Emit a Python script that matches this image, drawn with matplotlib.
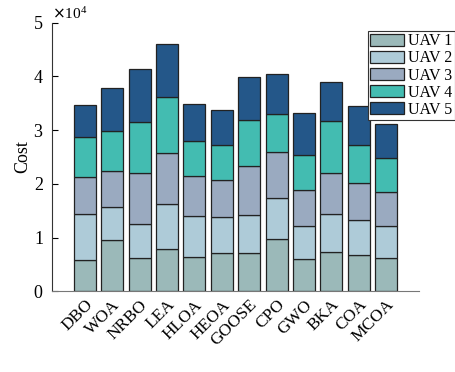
import matplotlib.pyplot as plt
import matplotlib.transforms as mtransforms
import numpy as np

algorithms = ["DBO", "WOA", "NRBO", "LEA", "HLOA", "HEOA", "GOOSE", "CPO", "GWO", "BKA", "COA", "MCOA"]
series_names = ["UAV 1", "UAV 2", "UAV 3", "UAV 4", "UAV 5"]

top_uav1 = [5800, 9500, 6200, 7900, 6400, 7100, 7100, 9700, 6100, 7300, 6700, 6200]
top_uav2 = [14300, 15700, 12500, 16200, 14000, 13900, 14200, 17300, 12100, 14300, 13300, 12200]
top_uav3 = [21300, 22300, 22100, 25700, 21500, 20800, 23300, 26000, 18800, 22000, 20100, 18400]
top_uav4 = [28700, 29800, 31600, 36200, 28000, 27300, 31800, 33000, 25400, 31700, 27200, 24800]
top_uav5 = [34600, 37800, 41400, 46100, 34800, 33700, 39800, 40400, 33100, 38900, 34400, 31100]

colors = ["#9BB9B9", "#AECBD8", "#9AAAC0", "#43BCB1", "#245789"]

plt.rcParams['font.family'] = ['Liberation Serif', 'DejaVu Serif']

tops = np.array([top_uav1, top_uav2, top_uav3, top_uav4, top_uav5], dtype=float)
costs = np.diff(np.vstack([np.zeros(len(algorithms)), tops]), axis=0)

fig = plt.figure(figsize=(4.56, 3.72), dpi=100)
ax = fig.add_axes([0.114, 0.217, 0.805, 0.722])

x = np.arange(1, len(algorithms) + 1)
bottom = np.zeros(len(algorithms))
for name, vals, c in zip(series_names, costs, colors):
    ax.bar(x, vals, width=0.8, bottom=bottom, color=c, edgecolor="#222222",
           linewidth=0.9, label=name)
    bottom += vals

ax.set_xlim(-0.2, 13.2)
ax.set_ylim(0, 50000)
ax.set_yticks([0, 10000, 20000, 30000, 40000, 50000])
ax.ticklabel_format(axis='y', style='sci', scilimits=(4, 4), useMathText=True)
ax.yaxis.get_offset_text().set_fontsize(11)
ax.set_xticks(x)
ax.set_xticklabels(algorithms, rotation=45, ha='right', rotation_mode='anchor', fontsize=12.5)
# nudge the slanted names a little to the right, like the original
shift = mtransforms.ScaledTranslation(6 / 72, 0, fig.dpi_scale_trans)
for lbl in ax.get_xticklabels():
    lbl.set_transform(lbl.get_transform() + shift)
ax.tick_params(axis='y', direction='in', labelsize=13, length=4, pad=6)
ax.tick_params(axis='x', length=0, pad=4)
ax.set_ylabel("Cost", fontsize=13, labelpad=1)

ax.spines['top'].set_visible(False)
ax.spines['right'].set_visible(False)
ax.spines['left'].set_color('#333333')
ax.spines['bottom'].set_color('#777777')

leg = ax.legend(loc='upper right', bbox_to_anchor=(0.997, 0.917), bbox_transform=fig.transFigure,
                borderaxespad=0, fontsize=11.5, handlelength=2.1, handleheight=0.8,
                labelspacing=0.07, handletextpad=0.25, borderpad=0.15, fancybox=False,
                framealpha=1)
leg.get_frame().set_edgecolor('#333333')
leg.get_frame().set_linewidth(0.8)

fig.savefig("out.png", dpi=100)
